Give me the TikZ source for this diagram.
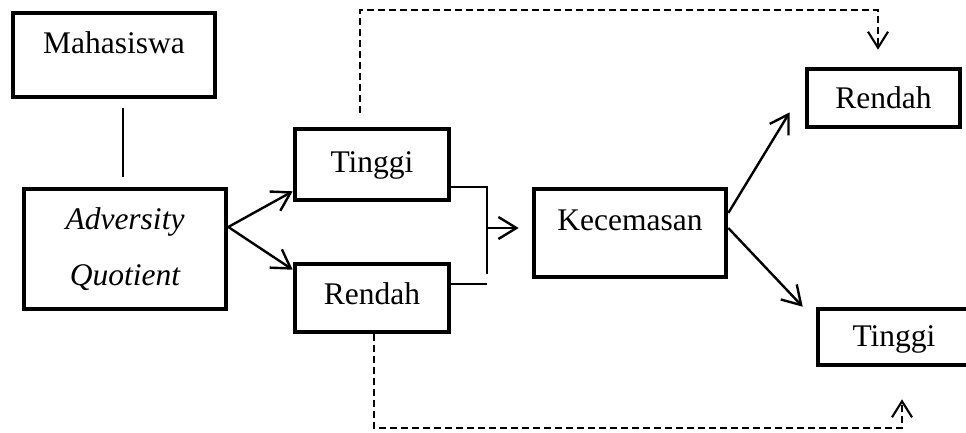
\documentclass[tikz,border=0pt]{standalone}
\usepackage{fontspec}
\setmainfont{Liberation Serif}
\usetikzlibrary{arrows.meta,calc}
\begin{document}
\begin{tikzpicture}[x=1pt,y=-1pt,
  box/.style={draw,line width=4.6pt,inner sep=0pt,anchor=center},
  txt/.style={anchor=base,inner sep=0pt,font=\fontsize{31.5}{37}\selectfont},
  itxt/.style={anchor=base,inner sep=0pt,font=\fontsize{31.5}{37}\selectfont\itshape},
  conn/.style={line width=2pt},
  arr/.style={line width=2.4pt,-{Straight Barb[length=18pt,width=22pt]}},
  dline/.style={line width=2.1pt,dash pattern=on 7pt off 4pt,-{Straight Barb[length=16pt,width=20pt]}}]
\useasboundingbox (0,0) rectangle (966,432);
% boxes
\node[box,minimum width=202pt,minimum height=84pt] (mah) at (114,55) {};
\node[txt] (maht) at (114,53) {Mahasiswa};
\node[box,minimum width=202pt,minimum height=120pt] (aq) at (125,249) {};
\node[itxt] (aqt1) at (125,229) {Adversity};
\node[itxt] (aqt2) at (125,285) {Quotient};
\node[box,minimum width=154pt,minimum height=71pt] (tinL) at (372,164.5) {};
\node[txt] (tinLt) at (372,172) {Tinggi};
\node[box,minimum width=154pt,minimum height=68pt] (renL) at (372,298) {};
\node[txt] (renLt) at (372,304) {Rendah};
\node[box,minimum width=192pt,minimum height=88pt] (kec) at (630,233) {};
\node[txt] (kect) at (630,230) {Kecemasan};
\node[box,minimum width=153pt,minimum height=58pt] (renR) at (883.5,98) {};
\node[txt] (renRt) at (883.5,108) {Rendah};
\node[box,minimum width=152pt,minimum height=56pt] (tinR) at (894,337) {};
\node[txt] (tinRt) at (894,346) {Tinggi};
% connectors
\draw[conn] ([xshift=9pt,yshift=-9pt]mah.south) -- ([xshift=-2pt,yshift=10pt]aq.north);
\draw[arr] ([yshift=22pt]aq.east) -- ([yshift=11pt]tinL.south west);
\draw[arr] ([yshift=22pt]aq.east) -- ([yshift=-8pt]renL.north west);
\coordinate (jn) at (487,228);
\coordinate (jb) at (487,274);
\draw[conn] ([yshift=-22pt]tinL.east) -| (jb);
\draw[conn] ([yshift=14pt]renL.east) -- ++(36,0);
\draw[arr] (jn) -- ([xshift=-13pt,yshift=5pt]kec.west);
\draw[arr] ([yshift=20pt]kec.east) -- ([xshift=-15pt,yshift=17pt]renR.south west);
\draw[arr] ([yshift=5pt]kec.east) -- ([xshift=-13pt]tinR.north west);
\draw[dline] ([xshift=-12pt,yshift=14pt]tinL.north) -- ++(0,-103) -| ([xshift=-5.5pt,yshift=17pt]renR.north);
\draw[dline] ([xshift=2pt]renL.south) -- ++(0,94) -| ([xshift=8pt,yshift=-32pt]tinR.south);
\end{tikzpicture}
\end{document}
